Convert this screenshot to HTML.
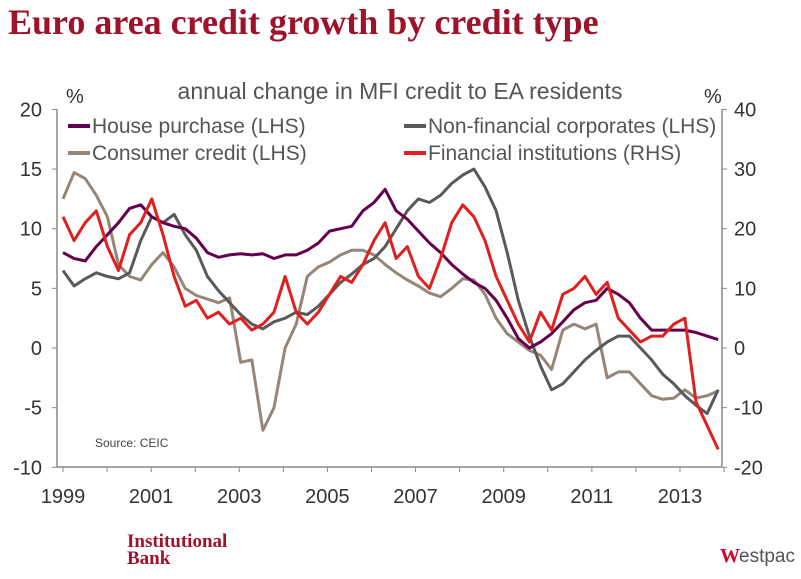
<!DOCTYPE html>
<html><head><meta charset="utf-8"><style>
body{margin:0;background:#fff;width:801px;height:574px;overflow:hidden;font-family:"Liberation Sans",sans-serif}
</style></head><body>
<svg width="801" height="574" xmlns="http://www.w3.org/2000/svg">
<text x="8" y="34" font-family="Liberation Serif" font-weight="bold" font-size="36" fill="#a0122a">Euro area credit growth by credit type</text>
<text x="400" y="99" text-anchor="middle" font-size="23" fill="#555">annual change in MFI credit to EA residents</text>
<text x="66" y="103" font-size="20" fill="#333">%</text>
<text x="704" y="103" font-size="20" fill="#333">%</text>
<g id="axes"></g>
<g id="series"></g>
<g id="legend" font-size="21" fill="#555">
 <line x1="68" y1="126" x2="90" y2="126" stroke="#66004d" stroke-width="4"/>
 <text x="92" y="133">House purchase (LHS)</text>
 <line x1="404" y1="126" x2="426" y2="126" stroke="#5a5a5a" stroke-width="4"/>
 <text x="428" y="133">Non-financial corporates (LHS)</text>
 <line x1="68" y1="153" x2="90" y2="153" stroke="#958678" stroke-width="4"/>
 <text x="92" y="160">Consumer credit (LHS)</text>
 <line x1="404" y1="153" x2="426" y2="153" stroke="#e0201f" stroke-width="4"/>
 <text x="428" y="160">Financial institutions (RHS)</text>
</g>
<text x="95" y="447" font-size="12" fill="#444">Source: CEIC</text>
<text x="127" y="547" font-family="Liberation Serif" font-weight="bold" font-size="19" fill="#a0122a">Institutional</text>
<text x="127" y="564" font-family="Liberation Serif" font-weight="bold" font-size="19" fill="#a0122a">Bank</text>
<g>
 <text x="720" y="562" font-size="20" font-weight="bold" fill="#d5002b" font-family="Liberation Serif">W</text>
 <text x="739" y="562" font-size="19" fill="#555">estpac</text>
</g>
</svg>
<script>
const years=["1999","2001","2003","2005","2007","2009","2011","2013"];
const leftTicks=[20,15,10,5,0,-5,-10];
const rightTicks=[40,30,20,10,0,-10,-20];
const house=[8.0,7.5,7.3,8.5,9.5,10.5,11.7,12.0,11.0,10.5,10.2,10.0,9.2,8.0,7.6,7.8,7.9,7.8,7.9,7.5,7.8,7.8,8.2,8.8,9.8,10.0,10.2,11.5,12.2,13.3,11.5,10.8,9.8,8.8,8.0,7.0,6.2,5.5,5.0,4.0,2.5,0.8,0.0,0.5,1.2,2.2,3.2,3.8,4.0,5.0,4.5,3.8,2.5,1.5,1.5,1.5,1.5,1.3,1.0,0.7];
const nfc=[6.5,5.2,5.8,6.3,6.0,5.8,6.3,9.0,11.0,10.5,11.2,9.5,8.2,6.0,4.8,3.8,2.8,2.0,1.6,2.2,2.5,3.0,2.8,3.5,4.5,5.5,6.2,7.0,7.5,8.5,10.0,11.5,12.5,12.2,12.8,13.8,14.5,15.0,13.5,11.5,8.0,4.0,1.0,-1.5,-3.5,-3.0,-2.0,-1.0,-0.2,0.5,1.0,1.0,0.0,-1.0,-2.2,-3.0,-4.0,-4.8,-5.5,-3.5];
const consumer=[12.5,14.7,14.2,12.8,11,7,6,5.7,7,8,6.8,5,4.4,4.1,3.8,4.2,-1.2,-1,-6.9,-5,0,2,6,6.8,7.2,7.8,8.2,8.2,7.8,7,6.3,5.7,5.2,4.6,4.3,5,5.8,5.7,4.5,2.5,1.2,0.5,-0.2,-0.6,-1.8,1.5,2,1.6,2,-2.5,-2,-2,-3,-4,-4.3,-4.2,-3.5,-4.2,-4,-3.6];
const financial=[22,18,21,23,17,13,19,21,25,19,12,7,8,5,6,4,5,3,4,6,12,6,4,6,9,12,11,14,18,21,15,17,12,10,15,21,24,22,18,12,8,4,1,6,3,9,10,12,9,11,5,3,1,2,2,4,5,-9,-13,-17];
const startYear=1999, step=0.252;
const x=t=>63+(t-1999)*44.07;
const yL=v=>348-v*11.93;
const yR=v=>348-v*5.965;
const NS="http://www.w3.org/2000/svg";
function mk(tag,attrs,parent){const e=document.createElementNS(NS,tag);for(const k in attrs)e.setAttribute(k,attrs[k]);parent.appendChild(e);return e;}
const ax=document.getElementById('axes');
let l=mk('line',{x1:57,y1:109,x2:57,y2:467,stroke:'#888','stroke-width':1.5},ax);


l=mk('line',{x1:57,y1:467,x2:722,y2:467,stroke:'#888','stroke-width':1.5},ax);


l=mk('line',{x1:722,y1:109,x2:722,y2:467,stroke:'#888','stroke-width':1.5},ax);


leftTicks.forEach(v=>{const y=yL(v);
 mk('line',{x1:52,y1:y,x2:57,y2:y,stroke:'#888'},ax);
 const t=mk('text',{x:42,y:y+7,'text-anchor':'end','font-size':20,fill:'#333'},ax);t.textContent=v;
 
 });
rightTicks.forEach(v=>{const y=yR(v);
 mk('line',{x1:722,y1:y,x2:727,y2:y,stroke:'#888'},ax);
 const t=mk('text',{x:734,y:y+7,'font-size':20,fill:'#333'},ax);t.textContent=v;
 
 });
for(let yr=1999;yr<=2014;yr++){mk('line',{x1:x(yr),y1:467,x2:x(yr),y2:472,stroke:'#888'},ax);}
years.forEach(s=>{const t=mk('text',{x:x(+s),y:503,'text-anchor':'middle','font-size':20,fill:'#333'},ax);t.textContent=s;
 
 });
const sg=document.getElementById('series');
function line(data,yf,color,name){const d=data.map((v,i)=>(i?'L':'M')+x(startYear+i*step).toFixed(1)+' '+yf(v).toFixed(1)).join(' ');
 const p=mk('path',{d:d,fill:'none',stroke:color,'stroke-width':3,'stroke-linejoin':'round'},sg);
 
 }
line(consumer,yL,'#958678','consumer-credit-line');
line(nfc,yL,'#5a5a5a','nfc-line');
line(house,yL,'#66004d','house-purchase-line');
line(financial,yR,'#e0201f','financial-institutions-line');
</script>
</body></html>
